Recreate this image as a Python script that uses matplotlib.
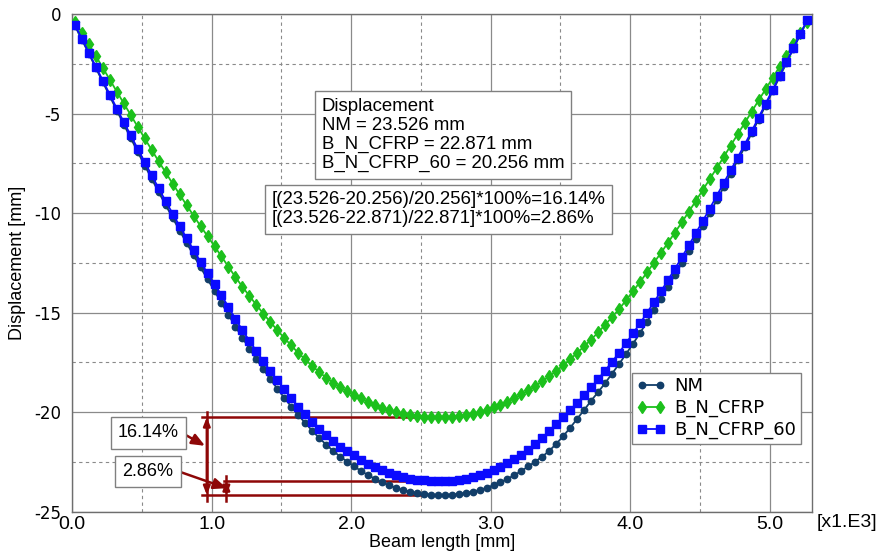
import matplotlib
matplotlib.use("Agg")
import matplotlib.pyplot as plt
from matplotlib.ticker import MultipleLocator

# beam length in 1e3 mm (axis shows "x1.E3")
beam_x = [0.02, 0.07, 0.12, 0.17, 0.22, 0.27, 0.32, 0.37, 0.42, 0.47,
          0.52, 0.57, 0.62, 0.67, 0.72, 0.77, 0.82, 0.87, 0.92, 0.97,
          1.02, 1.07, 1.12, 1.17, 1.22, 1.27, 1.32, 1.37, 1.42, 1.47,
          1.52, 1.57, 1.62, 1.67, 1.72, 1.77, 1.82, 1.87, 1.92, 1.97,
          2.02, 2.07, 2.12, 2.17, 2.22, 2.27, 2.32, 2.37, 2.42, 2.47,
          2.52, 2.57, 2.62, 2.67, 2.72, 2.77, 2.82, 2.87, 2.92, 2.97,
          3.02, 3.07, 3.12, 3.17, 3.22, 3.27, 3.32, 3.37, 3.42, 3.47,
          3.52, 3.57, 3.62, 3.67, 3.72, 3.77, 3.82, 3.87, 3.92, 3.97,
          4.02, 4.07, 4.12, 4.17, 4.22, 4.27, 4.32, 4.37, 4.42, 4.47,
          4.52, 4.57, 4.62, 4.67, 4.72, 4.77, 4.82, 4.87, 4.92, 4.97,
          5.02, 5.07, 5.12, 5.17, 5.22, 5.27]

nm = [-0.60, -1.30, -2.00, -2.72, -3.43, -4.14, -4.85, -5.55, -6.24, -6.93,
      -7.61, -8.28, -8.95, -9.60, -10.24, -10.88, -11.50, -12.12, -12.73, -13.32,
      -13.91, -14.52, -15.11, -15.70, -16.27, -16.81, -17.34, -17.85, -18.34, -18.82,
      -19.28, -19.72, -20.15, -20.54, -20.93, -21.29, -21.63, -21.94, -22.23, -22.48,
      -22.72, -22.95, -23.16, -23.35, -23.52, -23.67, -23.80, -23.91, -23.99, -24.06,
      -24.11, -24.14, -24.16,
      -24.16, -24.14, -24.11, -24.06, -23.99, -23.91, -23.80, -23.67, -23.52, -23.35,
      -23.16, -22.95, -22.72, -22.48, -22.23, -21.94, -21.59, -21.20, -20.78, -20.33,
      -19.89, -19.42, -18.99, -18.54, -18.06, -17.58, -17.08, -16.56, -16.03, -15.46,
      -14.88, -14.30, -13.70, -13.11, -12.51, -11.90, -11.28, -10.65, -10.01, -9.35,
      -8.70, -8.02, -7.35, -6.70, -6.00, -5.30, -4.60, -3.89, -3.17, -2.45,
      -1.74, -1.02, -0.30]

b_n_cfrp = [-0.40, -0.95, -1.52, -2.11, -2.71, -3.30, -3.90, -4.49, -5.08, -5.67,
            -6.25, -6.83, -7.40, -7.96, -8.52, -9.06, -9.60, -10.13, -10.65, -11.16,
            -11.66, -12.18, -12.70, -13.21, -13.70, -14.16, -14.61, -15.05, -15.47, -15.88,
            -16.27, -16.65, -17.02, -17.35, -17.68, -17.98, -18.27, -18.52, -18.75, -18.95,
            -19.13, -19.31, -19.48, -19.63, -19.77, -19.89, -19.99, -20.07, -20.14, -20.19,
            -20.22, -20.23, -20.25,
            -20.25, -20.23, -20.20, -20.14, -20.07, -19.99, -19.88, -19.76, -19.63, -19.47,
            -19.30, -19.11, -18.91, -18.68, -18.45, -18.19, -17.93, -17.64, -17.34, -17.02,
            -16.69, -16.35, -15.99, -15.61, -15.22, -14.82, -14.38, -13.92, -13.46, -12.98,
            -12.49, -12.00, -11.49, -10.98, -10.46, -9.93, -9.39, -8.84, -8.29, -7.74,
            -7.18, -6.61, -6.04, -5.48, -4.91, -4.34, -3.78, -3.22, -2.65, -2.09,
            -1.52, -0.96, -0.40]

b_n_cfrp_60 = [-0.55, -1.25, -1.95, -2.65, -3.35, -4.05, -4.75, -5.43, -6.10, -6.78,
               -7.45, -8.10, -8.76, -9.40, -10.03, -10.65, -11.26, -11.86, -12.45, -13.03,
               -13.58, -14.12, -14.72, -15.31, -15.88, -16.41, -16.93, -17.44, -17.93, -18.40,
               -18.86, -19.30, -19.72, -20.10, -20.49, -20.84, -21.17, -21.46, -21.73, -21.96,
               -22.17, -22.38, -22.58, -22.75, -22.91, -23.05, -23.16, -23.26, -23.34, -23.40,
               -23.43, -23.45, -23.47,
               -23.47, -23.45, -23.41, -23.35, -23.27, -23.17, -23.05, -22.91, -22.75, -22.57,
               -22.37, -22.15, -21.91, -21.61, -21.30, -20.96, -20.61, -20.24, -19.89, -19.53,
               -19.15, -18.76, -18.34, -17.91, -17.47, -17.01, -16.53, -16.04, -15.54, -15.01,
               -14.48, -13.93, -13.37, -12.80, -12.22, -11.62, -11.01, -10.40, -9.77, -9.13,
               -8.49, -7.85, -7.21, -6.56, -5.89, -5.20, -4.51, -3.81, -3.11, -2.41,
               -1.70, -0.99, -0.28]

series_names = ["NM", "B_N_CFRP", "B_N_CFRP_60"]
x_ticks = [0, 1, 2, 3, 4, 5]
x_tick_labels = ["0.0", "1.0", "2.0", "3.0", "4.0", "5.0"]
y_ticks = [0, -5, -10, -15, -20, -25]

info_text = ("Displacement\nNM = 23.526 mm\nB_N_CFRP = 22.871 mm\n"
             "B_N_CFRP_60 = 20.256 mm")
ratio_text = ("[(23.526-20.256)/20.256]*100%=16.14%\n"
              "[(23.526-22.871)/22.871]*100%=2.86%")
pct_labels = ["16.14%", "2.86%"]

plt.rcParams["axes.unicode_minus"] = False
arial = "Liberation Sans"

fig = plt.figure(figsize=(8.86, 5.59), dpi=100)
ax = fig.add_axes([0.0815, 0.0846, 0.8353, 0.8903])

ax.plot(beam_x, nm, color="#123e69", lw=1.3, marker="o", ms=4.6,
        label=series_names[0], zorder=3)
ax.plot(beam_x, b_n_cfrp, color="#1cc01c", lw=1.3, marker="d", ms=6.5,
        label=series_names[1], zorder=3)
ax.plot(beam_x, b_n_cfrp_60, color="#0a0aff", lw=1.3, marker="s", ms=5.3,
        label=series_names[2], zorder=4)

ax.set_xlim(0, 5.305)
ax.set_ylim(-25, 0)
ax.set_xticks(x_ticks)
ax.set_xticklabels(x_tick_labels, fontsize=14, family=arial)
ax.set_yticks(y_ticks)
ax.set_yticklabels([str(v) for v in y_ticks], fontsize=12)
ax.xaxis.set_minor_locator(MultipleLocator(0.5))
ax.yaxis.set_minor_locator(MultipleLocator(2.5))
ax.tick_params(which="both", length=0)
ax.tick_params(axis="x", pad=3)
ax.tick_params(axis="y", pad=8)
ax.grid(which="major", color="#8a8a8a", lw=0.9, ls="-")
ax.grid(which="minor", color="#8a8a8a", lw=0.8, ls=(0, (3, 3)))
ax.set_axisbelow(True)
for s in ax.spines.values():
    s.set_color("#6e6e6e")
    s.set_linewidth(1.0)

ax.set_xlabel("Beam length [mm]", fontsize=13, family=arial)
ax.xaxis.set_label_coords(0.5, -0.045)
ax.set_ylabel("Displacement [mm]", fontsize=13, family=arial)
ax.yaxis.set_label_coords(-0.062, 0.5)
ax.text(1.006, -0.005, "[x1.E3]", transform=ax.transAxes, ha="left",
        va="top", fontsize=14, family=arial)

# dimension annotations (dark red)
red = "#8e0707"
y_g, y_b, y_n = min(b_n_cfrp), min(b_n_cfrp_60), min(nm)
ax.plot([0.93, 2.60], [y_g, y_g], color=red, lw=1.8, zorder=2)
ax.plot([1.085, 2.41], [y_b, y_b], color=red, lw=1.8, zorder=2)
ax.plot([0.93, 2.52], [y_n, y_n], color=red, lw=1.8, zorder=2)
for xd, ytop in [(0.965, y_g), (1.105, y_b)]:
    ax.plot([xd, xd], [ytop + 0.28, y_n - 0.28], color=red, lw=1.8, zorder=2)
    ax.annotate("", xy=(xd, ytop), xytext=(xd, y_n),
                arrowprops=dict(arrowstyle="<|-|>,head_length=0.5,head_width=0.2",
                                color=red, lw=1.8, shrinkA=0, shrinkB=0))

small_box = dict(boxstyle="square,pad=0.4", fc="white", ec="#808080", lw=1)
big_box = dict(boxstyle="square,pad=0.36", fc="white", ec="#808080", lw=1)
ax.annotate(pct_labels[0], xy=(0.952, -21.69), xytext=(0.546, -21.04),
            ha="center", va="center", fontsize=13, family=arial, bbox=small_box,
            arrowprops=dict(arrowstyle="-|>,head_length=0.6,head_width=0.25",
                            color=red, lw=1.8, shrinkA=0, shrinkB=0,
                            relpos=(1.0, 0.6)))
ax.annotate(pct_labels[1], xy=(1.108, -23.82), xytext=(0.543, -22.97),
            ha="center", va="center", fontsize=13, family=arial, bbox=small_box,
            arrowprops=dict(arrowstyle="-|>,head_length=0.6,head_width=0.25",
                            color=red, lw=1.8, shrinkA=0, shrinkB=0,
                            relpos=(1.0, 0.6)))

ax.text(1.788, -4.205, info_text, ha="left", va="top", fontsize=13.4,
        family=arial, linespacing=1.15, bbox=big_box, zorder=5)
ax.text(1.428, -8.9, ratio_text, ha="left", va="top", fontsize=13.4,
        family=arial, linespacing=1.15, bbox=big_box, zorder=5)

leg = ax.legend(loc="upper left", bbox_to_anchor=(0.756, 0.279),
                borderaxespad=0, fontsize=13, labelspacing=0.2,
                borderpad=0.25, handlelength=1.6, handletextpad=0.5,
                numpoints=2, fancybox=False, framealpha=1, edgecolor="#808080")
leg.get_frame().set_linewidth(1.0)

fig.savefig("out.png", dpi=100)
